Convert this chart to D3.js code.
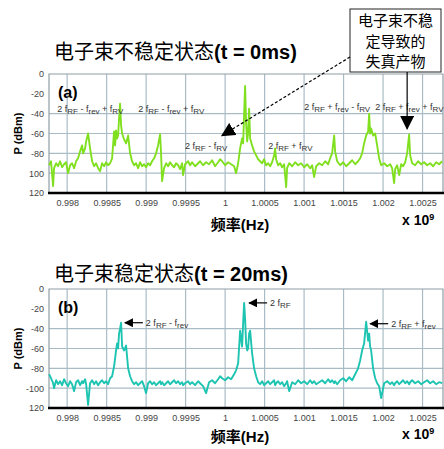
<!DOCTYPE html>
<html><head><meta charset="utf-8">
<script src="https://cdn.jsdelivr.net/npm/d3@7"></script>
<style>body{margin:0;background:#fff}svg{display:block}</style>
</head><body>
<script>
// ---- data ----
const freq = [
0.997771,0.997796,0.997822,0.997834,0.997860,0.997885,0.997910,0.997936,0.997961,0.997986,
0.998012,0.998037,0.998062,0.998088,0.998113,0.998138,0.998164,0.998189,0.998202,0.998227,
0.998240,0.998265,0.998290,0.998316,0.998341,0.998366,0.998392,0.998417,0.998442,0.998468,
0.998493,0.998518,0.998544,0.998569,0.998594,0.998607,0.998619,0.998632,0.998645,0.998657,
0.998670,0.998683,0.998696,0.998721,0.998746,0.998772,0.998797,0.998822,0.998848,0.998873,
0.998898,0.998923,0.998949,0.998974,0.998999,0.999025,0.999050,0.999075,0.999101,0.999126,
0.999151,0.999177,0.999189,0.999202,0.999227,0.999253,0.999278,0.999303,0.999329,0.999354,
0.999379,0.999405,0.999430,0.999455,0.999468,0.999493,0.999531,0.999557,0.999582,0.999620,
0.999658,0.999683,0.999721,0.999759,0.999797,0.999835,0.999873,0.999911,0.999937,0.999962,
1.000000,1.000038,1.000076,1.000114,1.000139,1.000165,1.000190,1.000215,1.000228,1.000241,
1.000253,1.000266,1.000279,1.000291,1.000304,1.000317,1.000342,1.000367,1.000393,1.000418,
1.000443,1.000469,1.000494,1.000519,1.000545,1.000570,1.000595,1.000621,1.000633,1.000646,
1.000671,1.000697,1.000722,1.000747,1.000773,1.000785,1.000811,1.000849,1.000887,1.000925,
1.000963,1.001001,1.001039,1.001077,1.001102,1.001127,1.001153,1.001191,1.001229,1.001267,
1.001305,1.001330,1.001355,1.001381,1.001393,1.001419,1.001457,1.001495,1.001533,1.001571,
1.001609,1.001647,1.001684,1.001710,1.001735,1.001760,1.001786,1.001811,1.001824,1.001836,
1.001849,1.001874,1.001900,1.001925,1.001950,1.001976,1.002014,1.002052,1.002090,1.002115,
1.002140,1.002153,1.002178,1.002204,1.002229,1.002254,1.002280,1.002305,1.002330,1.002343,
1.002368,1.002406,1.002444,1.002482,1.002520,1.002558,1.002596,1.002634,1.002672,1.002710,
1.002748];

// (a) unstable beam, t = 0 ms  (dBm)
const powerA = [
-92,-88,-113,-95,-90,-93,-88,-94,-91,-89,
-100,-92,-90,-95,-88,-85,-78,-72,-80,-75,
-68,-60,-75,-88,-93,-90,-95,-98,-90,-93,
-89,-92,-90,-85,-58,-72,-57,-65,-62,-45,
-30,-52,-60,-66,-70,-62,-80,-88,-92,-90,
-95,-89,-93,-91,-94,-90,-92,-88,-85,-80,
-72,-61,-80,-108,-95,-90,-93,-89,-92,-94,
-90,-92,-96,-90,-102,-91,-88,-92,-89,-93,
-90,-88,-92,-89,-91,-87,-93,-89,-86,-88,
-92,-89,-91,-93,-100,-90,-75,-65,-70,-40,
-12,-50,-68,-60,-35,-65,-72,-78,-82,-86,
-88,-90,-86,-92,-90,-93,-89,-82,-75,-86,
-92,-90,-94,-91,-114,-95,-90,-93,-89,-92,
-90,-94,-91,-95,-92,-104,-93,-90,-92,-88,
-91,-85,-80,-62,-78,-88,-92,-89,-93,-90,
-87,-91,-88,-85,-80,-70,-62,-58,-40,-60,
-55,-62,-60,-72,-85,-92,-90,-93,-91,-95,
-110,-96,-92,-102,-91,-93,-89,-80,-61,-82,
-90,-92,-88,-91,-89,-92,-90,-93,-89,-91,
-88];

// (b) stable beam, t = 20 ms  (dBm)
const powerB = [
-86,-90,-95,-100,-92,-96,-93,-97,-91,-95,
-98,-93,-96,-103,-94,-92,-97,-93,-95,-91,
-96,-117,-95,-92,-96,-93,-97,-94,-92,-95,
-93,-96,-90,-88,-78,-70,-62,-55,-60,-45,
-40,-34,-58,-62,-57,-80,-88,-93,-96,-94,
-97,-95,-93,-98,-105,-95,-93,-96,-94,-97,
-95,-93,-96,-94,-97,-95,-93,-96,-94,-92,
-95,-93,-96,-94,-97,-95,-93,-96,-94,-97,
-93,-95,-98,-105,-94,-92,-95,-91,-88,-90,
-92,-89,-91,-86,-82,-75,-42,-58,-35,-14,
-30,-55,-62,-60,-45,-42,-65,-80,-88,-94,
-96,-93,-97,-95,-93,-96,-94,-92,-97,-95,
-93,-96,-94,-98,-95,-93,-103,-94,-96,-92,
-95,-93,-96,-92,-95,-93,-96,-94,-92,-95,
-91,-94,-92,-95,-93,-96,-92,-90,-93,-89,
-92,-86,-80,-72,-62,-55,-33,-52,-45,-58,
-62,-80,-90,-95,-98,-110,-95,-93,-96,-94,
-97,-95,-93,-96,-94,-92,-95,-93,-96,-94,
-92,-95,-93,-96,-94,-92,-95,-93,-96,-94,
-95];

const xTicks = [0.998,0.9985,0.999,0.9995,1,1.0005,1.001,1.0015,1.002,1.0025];
const xTickLabels = ["0.998","0.9985","0.999","0.9995","1","1.0005","1.001","1.0015","1.002","1.0025"];
const yTicks = [0,-20,-40,-60,-80,-100,-120];
const yTickLabelsA = ["0","-20","-40","-60","-80","100","120"];
const yTickLabelsB = ["0","-20","-40","-60","-80","-100","120"];
const yGrid = [-40,-60,-80,-100];

const titleA = ["电子束不稳定状态", "(t = 0ms)"];
const titleB = ["电子束稳定状态", "(t = 20ms)"];
const boxLines = ["电子束不稳","定导致的","失真产物"];

// annotation labels: [freq anchor, dB anchor, parts]  parts: [text, isSub]
const annA = [
  [0.997875, -36, [["2 f",0],["RF",1],[" - f",0],["rev",1],[" + f",0],["RV",1]]],
  [0.998900, -36, [["2 f",0],["RF",1],[" - f",0],["rev",1],[" + f",0],["RV",1]]],
  [0.999493, -74, [["2 f",0],["RF",1],[" - f",0],["RV",1]]],
  [1.000545, -74, [["2 f",0],["RF",1],[" + f",0],["RV",1]]],
  [1.001001, -34, [["2 f",0],["RF",1],[" + f",0],["rev",1],[" - f",0],["RV",1]]],
  [1.001900, -34, [["2 f",0],["RF",1],[" + f",0],["rev",1],[" + f",0],["RV",1]]]
];
const annB = [
  [0.998680, -34, [["2 f",0],["RF",1],[" - f",0],["rev",1]]],
  [1.000253, -14, [["2 f",0],["RF",1]]],
  [1.001786, -35, [["2 f",0],["RF",1],[" + f",0],["rev",1]]]
];

// ---- drawing ----
const W = 444, H = 449;
const svg = d3.select("body").append("svg").attr("width", W).attr("height", H);
const defs = svg.append("defs");
defs.append("marker").attr("id","ah").attr("viewBox","0 0 10 10").attr("refX",9).attr("refY",5)
  .attr("markerWidth",9).attr("markerHeight",9).attr("markerUnits","userSpaceOnUse").attr("orient","auto")
  .append("path").attr("d","M0,0L10,5L0,10Z").attr("fill","#000");
defs.append("marker").attr("id","ahBig").attr("viewBox","0 0 10 10").attr("refX",9).attr("refY",5)
  .attr("markerWidth",14).attr("markerHeight",14).attr("markerUnits","userSpaceOnUse").attr("orient","auto")
  .append("path").attr("d","M0,0L10,5L0,10Z").attr("fill","#000");

const left = 49, right = 443;
const x = d3.scaleLinear().domain([0.99777, 1.002759]).range([left, right]);
const CJK = "'Noto Sans CJK SC','Noto Sans',sans-serif";
const SANS = "'Liberation Sans','DejaVu Sans',Arial,sans-serif";

function panel(cfg) {
  const y = d3.scaleLinear().domain([-120, 0]).range([cfg.bottom, cfg.top]);
  const g = svg.append("g");
  // grid
  g.selectAll(".vg").data(xTicks).join("line")
    .attr("x1", d => x(d)).attr("x2", d => x(d)).attr("y1", cfg.top).attr("y2", cfg.bottom)
    .attr("stroke", "#a9bcc6").attr("stroke-width", 1.2);
  g.selectAll(".hg").data(yGrid).join("line")
    .attr("x1", left).attr("x2", right).attr("y1", d => y(d)).attr("y2", d => y(d))
    .attr("stroke", "#a9bcc6").attr("stroke-width", 1.2);
  // frame
  g.append("path").attr("d", `M${left},${cfg.bottom}V${cfg.top}H${right}V${cfg.bottom}`)
    .attr("fill","none").attr("stroke","#8f9ea6").attr("stroke-width",1.2);
  // data line
  const line = d3.line().x((d,i) => x(freq[i])).y(d => y(d));
  g.append("path").datum(cfg.values).attr("d", line)
    .attr("fill","none").attr("stroke", cfg.color).attr("stroke-width", 1.9).attr("stroke-linejoin","round");
  // x axis
  const xa = g.append("g").attr("transform", `translate(0,${cfg.bottom})`)
    .call(d3.axisBottom(x).tickValues(xTicks).tickSize(0).tickPadding(7).tickFormat((d,i) => xTickLabels[i]));
  xa.select(".domain").remove();
  xa.selectAll("text").attr("font-family", SANS).attr("font-size", 9).attr("fill", "#444");
  g.append("line").attr("x1", left - 1).attr("x2", right + 1).attr("y1", cfg.bottom).attr("y2", cfg.bottom)
    .attr("stroke", "#000").attr("stroke-width", 2.5);
  // y axis
  const ya = g.append("g").attr("transform", `translate(${left},0)`)
    .call(d3.axisLeft(y).tickValues(yTicks).tickSize(0).tickPadding(5).tickFormat((d,i) => cfg.yLabels[i]));
  ya.select(".domain").remove();
  ya.selectAll("text").attr("font-family", SANS).attr("font-size", 9).attr("fill", "#444");
  // y title
  g.append("text").attr("transform", `translate(22,${(cfg.top + cfg.bottom)/2}) rotate(-90)`)
    .attr("text-anchor","middle").attr("font-family", SANS).attr("font-weight","bold").attr("font-size", 11)
    .text("P (dBm)");
  // panel letter
  g.append("text").attr("x", 58).attr("y", cfg.top + 24).attr("font-family", SANS)
    .attr("font-weight","bold").attr("font-size", 16).text(cfg.letter);
  // chart title
  const t = g.append("text").attr("x", 54).attr("y", cfg.titleY).attr("font-size", 20).attr("fill","#000");
  t.append("tspan").attr("font-family", CJK).text(cfg.title[0]);
  t.append("tspan").attr("font-family", SANS).attr("font-weight","bold").text(cfg.title[1]);
  // x title
  const xt = g.append("text").attr("x", 240).attr("y", cfg.bottom + cfg.xTitleDy).attr("text-anchor","middle")
    .attr("font-size", 15).attr("font-weight","bold");
  xt.append("tspan").attr("font-family", CJK).text("频率");
  xt.append("tspan").attr("font-family", SANS).text("(Hz)");
  const ex = g.append("text").attr("x", 402).attr("y", cfg.bottom + cfg.expDy).attr("font-family", SANS)
    .attr("font-weight","bold").attr("font-size", 14);
  ex.append("tspan").text("x 10");
  ex.append("tspan").attr("dy", -5).attr("font-size", 9).text("9");
  return {g, y};
}

function addLabel(g, px, py, parts) {
  const t = g.append("text").attr("x", px).attr("y", py).attr("font-family", SANS)
    .attr("font-size", 9).attr("fill", "#333");
  let prevSub = 0;
  parts.forEach(([s, sub]) => {
    const sp = t.append("tspan").text(s).attr("font-size", sub ? 8 : 9);
    const dy = (sub ? 2 : 0) - (prevSub ? 2 : 0);
    if (dy) sp.attr("dy", dy);
    prevSub = sub;
  });
}

// panel (a)
const A = panel({top: 74, bottom: 193, values: powerA, color: "#80e020", yLabels: yTickLabelsA,
  letter: "(a)", title: titleA, titleY: 59, xTitleDy: 37, expDy: 32});
annA.forEach(([f, db, parts]) => addLabel(A.g, x(f), A.y(db) + 2, parts));

// panel (b)
const B = panel({top: 289, bottom: 408, values: powerB, color: "#1ec4b2", yLabels: yTickLabelsB,
  letter: "(b)", title: titleB, titleY: 281, xTitleDy: 34, expDy: 31});
annB.forEach(([f, db, parts]) => {
  const px = x(f) + 4, py = B.y(db);
  B.g.append("line").attr("x1", px + 18).attr("x2", px).attr("y1", py).attr("y2", py)
    .attr("stroke", "#000").attr("stroke-width", 1.2).attr("marker-end", "url(#ah)");
  addLabel(B.g, px + 21, py + 3, parts);
});

// callout box (a)
const bx = 350, by = 9, bw = 91, bh = 63;
svg.append("rect").attr("x", bx).attr("y", by).attr("width", bw).attr("height", bh)
  .attr("fill", "#fff").attr("stroke", "#222").attr("stroke-width", 1);
svg.selectAll(".bl").data(boxLines).join("text")
  .attr("x", bx + bw/2).attr("y", (d,i) => by + 17 + i * 20.5).attr("text-anchor","middle")
  .attr("font-family", CJK).attr("font-size", 15).text(d => d);
// arrows from box
svg.append("line").attr("x1", bx).attr("y1", by + 48).attr("x2", x(0.999962)).attr("y2", A.y(-62))
  .attr("stroke","#000").attr("stroke-width",1.2).attr("stroke-dasharray","3,2").attr("marker-end","url(#ahBig)");
svg.append("line").attr("x1", x(1.002305)).attr("y1", by + bh).attr("x2", x(1.002305)).attr("y2", A.y(-55))
  .attr("stroke","#000").attr("stroke-width",1.2).attr("marker-end","url(#ahBig)");
</script>
</body></html>
